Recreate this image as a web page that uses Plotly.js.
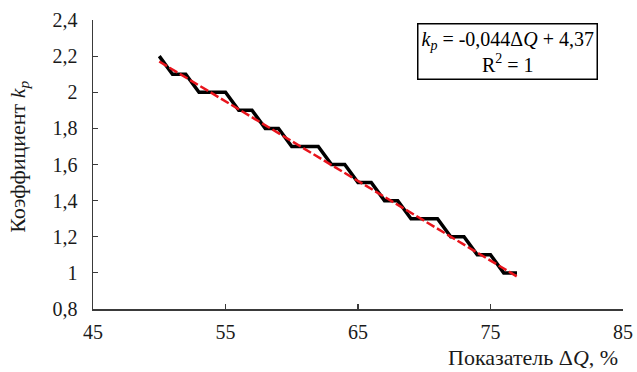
<!DOCTYPE html>
<html>
<head>
<meta charset="utf-8">
<script src="https://cdn.plot.ly/plotly-3.0.1.min.js"></script>
<style>html,body{margin:0;padding:0;background:#fff;}#chart{width:637px;height:372px;}</style>
</head>
<body>
<div id="chart"></div>
<script>
// Observed step data (ΔQ, %) vs coefficient k_p
const deltaQ = [50,51,52,53,54,55,56,57,58,59,60,61,62,63,64,65,66,67,68,69,70,71,72,73,74,75,76,77];
const kp =     [2.2,2.1,2.1,2.0,2.0,2.0,1.9,1.9,1.8,1.8,1.7,1.7,1.7,1.6,1.6,1.5,1.5,1.4,1.4,1.3,1.3,1.3,1.2,1.2,1.1,1.1,1.0,1.0];
// Linear trend end points
const trendX = [50, 77];
const trendY = [2.17, 0.98];
const xTicks = [45, 55, 65, 75, 85];
const yTicks = [0.8, 1, 1.2, 1.4, 1.6, 1.8, 2, 2.2, 2.4];

const serif = "Liberation Serif, Times New Roman, serif";

const traces = [
  {x: deltaQ, y: kp, mode: 'lines', line: {color: '#000000', width: 3.5}, hoverinfo: 'skip'},
  {x: trendX, y: trendY, mode: 'lines', line: {color: '#e8141c', width: 2.5, dash: '9px,3px'}, hoverinfo: 'skip'}
];

const axisCommon = {
  showgrid: false, zeroline: false, showline: true, linecolor: '#3a3a3a', linewidth: 1.5,
  ticks: 'inside', ticklen: 5, tickwidth: 1.2, tickcolor: '#3a3a3a',
  tickfont: {family: serif, size: 20, color: '#1a1a1a'}, mirror: false
};

const layout = {
  width: 637, height: 372,
  margin: {l: 93, r: 14, t: 20, b: 63},
  paper_bgcolor: '#ffffff', plot_bgcolor: '#ffffff',
  showlegend: false,
  separators: ', ',
  font: {family: serif},
  xaxis: Object.assign({}, axisCommon, {range: [45, 85], tickvals: xTicks, ticklabelstandoff: 4}),
  yaxis: Object.assign({}, axisCommon, {range: [0.8, 2.4], tickvals: yTicks, ticklabelstandoff: 10}),
  annotations: [
    {xref: 'paper', yref: 'paper', x: 0.994, y: -0.168, xanchor: 'right', yanchor: 'middle', showarrow: false,
     text: 'Показатель Δ<i>Q</i>, %', font: {family: serif, size: 22, color: '#1a1a1a'}},
    {xref: 'paper', yref: 'paper', x: -0.14, y: 0.526, xanchor: 'center', yanchor: 'middle', showarrow: false, textangle: -90,
     text: 'Коэффициент <i>k</i><sub><i>p</i></sub>', font: {family: serif, size: 22, color: '#1a1a1a'}},
    {xref: 'paper', yref: 'paper', x: 0.783, y: 0.89, xanchor: 'center', yanchor: 'middle', showarrow: false,
     text: '<i>k</i><sub><i>p</i></sub> = -0,044Δ<i>Q</i> + 4,37<br>R<sup>2</sup> = 1',
     font: {family: serif, size: 20, color: '#000000'}, align: 'center',
     bordercolor: '#000000', borderwidth: 1.5, borderpad: 3, bgcolor: '#ffffff'}
  ]
};

Plotly.newPlot('chart', traces, layout, {staticPlot: true, displayModeBar: false});
</script>
</body>
</html>
